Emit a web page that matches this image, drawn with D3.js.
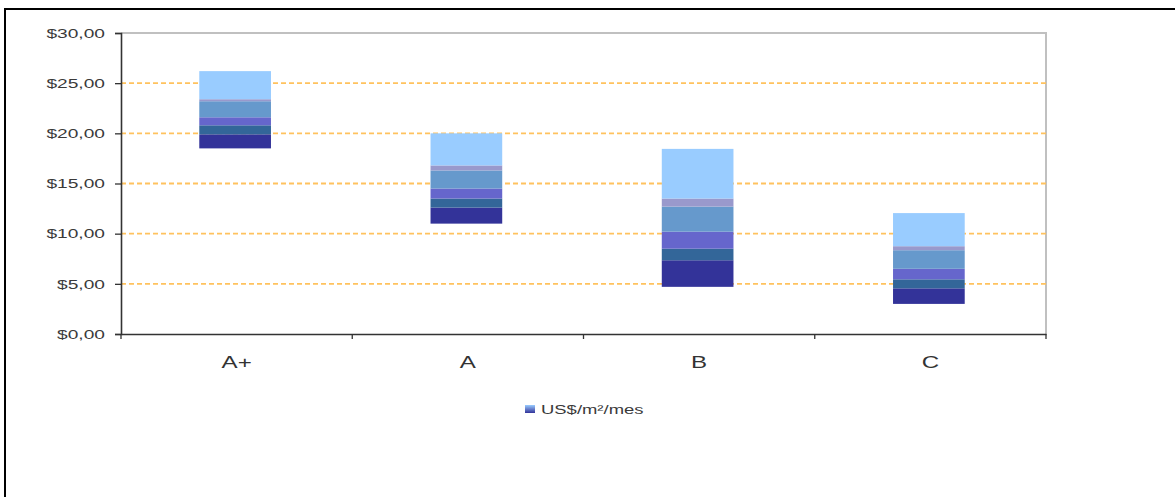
<!DOCTYPE html>
<html><head><meta charset="utf-8">
<script src="https://cdn.jsdelivr.net/npm/d3@7"></script>
<style>body{margin:0;background:#fff}svg{display:block}</style>
</head><body>
<svg id="c" width="1175" height="497"></svg>
<script>
const categories = ["A+", "A", "B", "C"];
// band edges (US$/m²/mes), bottom to top
const lowValues  = [18.5, 11.0, 4.7, 3.0];
const level1     = [19.9, 12.6, 7.35, 4.55];
const level2     = [20.8, 13.5, 8.5, 5.45];
const level3     = [21.6, 14.5, 10.2, 6.5];
const level4     = [23.2, 16.3, 12.7, 8.35];
const level5     = [23.4, 16.8, 13.5, 8.75];
const highValues = [26.2, 20.0, 18.45, 12.05];
const yTicks = [0, 5, 10, 15, 20, 25, 30];
const yTickLabels = ["$0,00", "$5,00", "$10,00", "$15,00", "$20,00", "$25,00", "$30,00"];
const legendLabel = "US$/m²/mes";

const layerColors = ["#333399", "#336699", "#6666CC", "#6699CC", "#9999CC", "#99CCFF"];
const edges = [lowValues, level1, level2, level3, level4, level5, highValues];

const svg = d3.select("#c");
const M = {left: 121, right: 1046, top: 33, bottom: 334};
const SX = 1.42;

const x = d3.scaleBand().domain(categories).range([M.left, M.right]);
const y = d3.scaleLinear().domain([0, 30]).range([M.bottom, M.top]);

// outer frame (top + left)
svg.append("line").attr("x1", 5).attr("x2", 1175).attr("y1", 9).attr("y2", 9).attr("stroke", "#000").attr("stroke-width", 2);
svg.append("line").attr("x1", 5).attr("x2", 5).attr("y1", 8).attr("y2", 497).attr("stroke", "#000").attr("stroke-width", 2);

// plot border top/right
svg.append("path").attr("d", `M${M.left},${M.top}H${M.right}V${M.bottom}`).attr("fill", "none").attr("stroke", "#c0c0c0").attr("stroke-width", 2);

// grid lines
svg.append("g").selectAll("line").data(yTicks.filter(t => t > 0 && t < 30)).join("line")
  .attr("x1", M.left).attr("x2", M.right)
  .attr("y1", d => y(d)).attr("y2", d => y(d))
  .attr("stroke", "#FFC25E").attr("stroke-width", 1.8).attr("stroke-dasharray", "5,3");

// bars
const bw = x.bandwidth() * 0.31;
const barG = svg.append("g");
categories.forEach((c, i) => {
  const cx = x(c) + x.bandwidth() / 2 - 1.5;
  for (let k = 0; k < 6; k++) {
    const lo = edges[k][i], hi = edges[k + 1][i];
    barG.append("rect")
      .attr("x", cx - bw / 2).attr("width", bw)
      .attr("y", y(hi)).attr("height", y(lo) - y(hi))
      .attr("fill", layerColors[k]);
  }
});

// axes
const yAxis = d3.axisLeft(y).tickValues(yTicks).tickSize(6).tickFormat("");
const yg = svg.append("g").attr("transform", `translate(${M.left},0)`).call(yAxis);
yg.select(".domain").attr("stroke", "#333").attr("stroke-width", 1.6);
yg.selectAll(".tick line").attr("stroke", "#333").attr("stroke-width", 1.3);

const xAxis = d3.axisBottom(x).tickSize(0).tickFormat("");
const xg = svg.append("g").attr("transform", `translate(0,${M.bottom})`).call(xAxis);
xg.select(".domain").attr("stroke", "#333").attr("stroke-width", 1.6);
const boundaries = categories.map(c => x(c)).concat([M.right]);
xg.selectAll(".sep").data(boundaries).join("line").attr("class", "sep")
  .attr("x1", d => d).attr("x2", d => d).attr("y1", 0).attr("y2", 5)
  .attr("stroke", "#333").attr("stroke-width", 1.3);

// y labels
svg.append("g").selectAll("text").data(yTicks).join("text")
  .attr("transform", d => `translate(105,${y(d) + 4.8}) scale(${SX},1)`)
  .attr("text-anchor", "end")
  .attr("font-family", "Liberation Sans, Arial, sans-serif")
  .attr("font-size", 13.5).attr("fill", "#3a3a3a")
  .text((d, i) => yTickLabels[i]);

// x labels
svg.append("g").selectAll("text").data(categories).join("text")
  .attr("transform", d => `translate(${x(d) + x.bandwidth() / 2},${368}) scale(${SX},1)`)
  .attr("text-anchor", "middle")
  .attr("font-family", "Liberation Sans, Arial, sans-serif")
  .attr("font-size", 17).attr("fill", "#333")
  .text(d => d);

// legend
const defs = svg.append("defs");
const gr = defs.append("linearGradient").attr("id", "lg").attr("x1", 0).attr("x2", 0).attr("y1", 0).attr("y2", 1);
gr.append("stop").attr("offset", "0%").attr("stop-color", "#99CCFF");
gr.append("stop").attr("offset", "100%").attr("stop-color", "#333399");
svg.append("rect").attr("x", 525).attr("y", 405).attr("width", 10).attr("height", 8).attr("fill", "url(#lg)");
svg.append("text")
  .attr("transform", `translate(541,413.5) scale(${SX},1)`)
  .attr("font-family", "Liberation Sans, Arial, sans-serif")
  .attr("font-size", 13).attr("fill", "#3a3a3a")
  .text(legendLabel);
</script>
</body></html>
